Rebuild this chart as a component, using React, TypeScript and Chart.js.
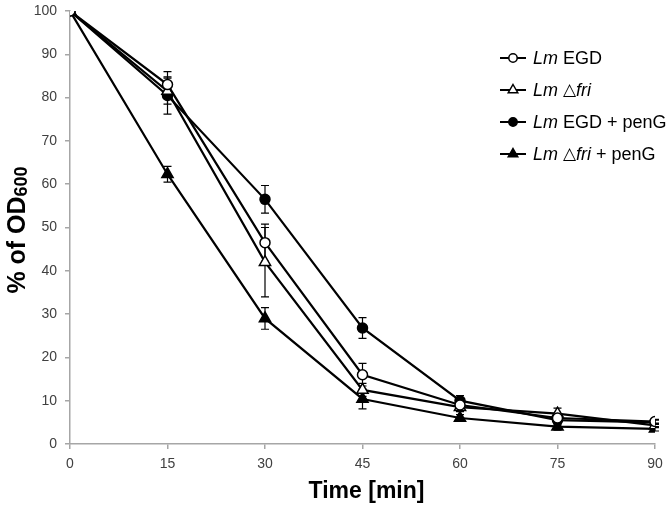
import React, { useEffect, useRef } from "react";
import { Chart, registerables } from "chart.js";

Chart.register(...registerables);

// ---- data ----
const times = [0, 15, 30, 45, 60, 75, 90];
const xTickValues = [0, 15, 30, 45, 60, 75, 90];
const yTickStep = 10;

const egd = [100, 83, 46.5, 16, 9, 6, 5.2];
const egdErr = [0, 3, 4.3, 2.6, 1, 1, 0.5];

const fri = [100, 81.5, 42, 12.5, 8.5, 7, 4.3];
const friErr = [0, 3, 8, 1.5, 1, 1.3, 0.5];

const egdPen = [100, 80.5, 56.5, 26.8, 10, 5.5, 5];
const egdPenErr = [0, 4.3, 3.2, 2.4, 1.2, 1, 0.5];

const friPen = [100, 62.3, 29, 10.4, 6, 4, 3.5];
const friPenErr = [0, 1.8, 2.5, 2.3, 0.8, 0.8, 0.5];

const seriesNames = ["Lm EGD", "Lm △fri", "Lm EGD + penG", "Lm △fri + penG"];

const FONT = "'Liberation Sans', Arial, sans-serif";

type LegendPart = { t: string; italic?: boolean; sym?: boolean };
const legendParts: LegendPart[][] = [
  [{ t: "Lm", italic: true }, { t: " EGD" }],
  [{ t: "Lm", italic: true }, { t: " " }, { t: "△", sym: true }, { t: "fri", italic: true }],
  [{ t: "Lm", italic: true }, { t: " EGD + penG" }],
  [{ t: "Lm", italic: true }, { t: " " }, { t: "△", sym: true }, { t: "fri", italic: true }, { t: " + penG" }],
];

const errorSets = [egdErr, friErr, egdPenErr, friPenErr];

const errorBarPlugin = {
  id: "errorBars",
  beforeDatasetsDraw(chart: any) {
    const ctx = chart.ctx;
    const xs = chart.scales.x;
    const ys = chart.scales.y;
    ctx.save();
    ctx.strokeStyle = "#000";
    ctx.lineWidth = 1.2;
    chart.data.datasets.forEach((ds: any, i: number) => {
      const errs = errorSets[i];
      ds.data.forEach((pt: any, j: number) => {
        const e = errs[j];
        if (!e) return;
        const x = xs.getPixelForValue(pt.x);
        const y1 = ys.getPixelForValue(pt.y + e);
        const y2 = ys.getPixelForValue(pt.y - e);
        ctx.beginPath();
        ctx.moveTo(x, y1);
        ctx.lineTo(x, y2);
        ctx.moveTo(x - 4, y1);
        ctx.lineTo(x + 4, y1);
        ctx.moveTo(x - 4, y2);
        ctx.lineTo(x + 4, y2);
        ctx.stroke();
      });
    });
    ctx.restore();
  },
};

const annotationsPlugin = {
  id: "annotations",
  afterDraw(chart: any) {
    const ctx = chart.ctx;
    const area = chart.chartArea;
    ctx.save();
    ctx.fillStyle = "#000";

    // x title
    ctx.font = `bold 23px ${FONT}`;
    ctx.textAlign = "center";
    ctx.textBaseline = "alphabetic";
    ctx.fillText("Time [min]", (area.left + area.right) / 2 + 4, 498);

    // y title with subscript
    ctx.save();
    ctx.translate(25, 230);
    ctx.rotate(-Math.PI / 2);
    const mainFont = `bold 25px ${FONT}`;
    const subFont = `bold 18px ${FONT}`;
    ctx.font = mainFont;
    const mainText = "% of OD";
    const wMain = ctx.measureText(mainText).width;
    ctx.font = subFont;
    const wSub = ctx.measureText("600").width;
    const start = -(wMain + wSub) / 2;
    ctx.textAlign = "left";
    ctx.font = mainFont;
    ctx.fillText(mainText, start, 0);
    ctx.font = subFont;
    ctx.fillText("600", start + wMain, 2);
    ctx.restore();

    // legend
    const legendY = [58, 90, 122, 154];
    const styles = chart.data.datasets;
    legendY.forEach((ly: number, i: number) => {
      const ds = styles[i];
      ctx.strokeStyle = "#000";
      ctx.lineWidth = 2;
      ctx.beginPath();
      ctx.moveTo(500, ly);
      ctx.lineTo(526, ly);
      ctx.stroke();
      const mx = 513;
      ctx.lineWidth = 1.5;
      ctx.fillStyle = ds.pointBackgroundColor;
      ctx.beginPath();
      if (ds.pointStyle === "circle") {
        ctx.arc(mx, ly, 4.2, 0, Math.PI * 2);
      } else {
        const r = 5.5;
        ctx.moveTo(mx, ly - r);
        ctx.lineTo(mx + r * 0.866, ly + r * 0.5);
        ctx.lineTo(mx - r * 0.866, ly + r * 0.5);
        ctx.closePath();
      }
      ctx.fill();
      ctx.stroke();

      let tx = 533;
      ctx.fillStyle = "#000";
      ctx.textAlign = "left";
      ctx.textBaseline = "middle";
      legendParts[i].forEach((p) => {
        if (p.sym) ctx.font = `17px 'DejaVu Sans', ${FONT}`;
        else ctx.font = `${p.italic ? "italic " : ""}18px ${FONT}`;
        ctx.fillText(p.t, tx, ly + 1);
        tx += ctx.measureText(p.t).width;
      });
    });
    ctx.restore();
  },
};

function mk(values: number[]) {
  return values.map((v, i) => ({ x: times[i], y: v }));
}

export default function App() {
  const ref = useRef<HTMLCanvasElement | null>(null);

  useEffect(() => {
    if (!ref.current) return;
    const common = {
      borderColor: "#000",
      borderWidth: 2.2,
      pointBorderColor: "#000",
      pointBorderWidth: 1.5,
      showLine: true,
      tension: 0,
    };
    const chart = new Chart(ref.current, {
      type: "scatter",
      data: {
        datasets: [
          { ...common, label: seriesNames[0], data: mk(egd), pointStyle: "circle", pointRadius: 5, pointBackgroundColor: "#fff" },
          { ...common, label: seriesNames[1], data: mk(fri), pointStyle: "triangle", pointRadius: 6.5, pointBackgroundColor: "#fff" },
          { ...common, label: seriesNames[2], data: mk(egdPen), pointStyle: "circle", pointRadius: 5, pointBackgroundColor: "#000" },
          { ...common, label: seriesNames[3], data: mk(friPen), pointStyle: "triangle", pointRadius: 6.5, pointBackgroundColor: "#000" },
        ],
      },
      options: {
        animation: false,
        responsive: false,
        devicePixelRatio: 1,
        layout: { padding: { left: 0, right: 17, top: 11, bottom: 0 } },
        plugins: {
          legend: { display: false },
          tooltip: { enabled: false },
        },
        scales: {
          x: {
            type: "linear",
            min: 0,
            max: 90,
            afterBuildTicks: (scale: any) => {
              scale.ticks = xTickValues.map((v) => ({ value: v }));
            },
            ticks: {
              color: "#404040",
              font: { family: FONT, size: 14 },
              padding: 7,
              maxRotation: 0,
            },
            grid: {
              display: true,
              drawOnChartArea: false,
              drawTicks: true,
              tickLength: 5,
              color: "#a6a6a6",
              lineWidth: 1.5,
            },
            border: { display: true, color: "#a6a6a6", width: 1.5 },
            afterFit: (scale: any) => {
              scale.height = 64;
              scale.paddingLeft = 0;
              scale.paddingRight = 0;
            },
          },
          y: {
            type: "linear",
            min: 0,
            max: 100,
            ticks: {
              stepSize: yTickStep,
              color: "#404040",
              font: { family: FONT, size: 14 },
              padding: 8,
            },
            grid: {
              display: true,
              drawOnChartArea: false,
              drawTicks: true,
              tickLength: 5,
              color: "#a6a6a6",
              lineWidth: 1.5,
            },
            border: { display: true, color: "#a6a6a6", width: 1.5 },
            afterFit: (scale: any) => {
              scale.width = 70;
              scale.paddingTop = 0;
              scale.paddingBottom = 0;
            },
          },
        },
      },
      plugins: [errorBarPlugin, annotationsPlugin],
    } as any);
    return () => chart.destroy();
  }, []);

  return (
    <div style={{ position: "absolute", left: 0, top: 0, width: 672, height: 508, background: "#fff" }}>
      <canvas ref={ref} width={672} height={508} style={{ width: 672, height: 508, display: "block" }} />
    </div>
  );
}
